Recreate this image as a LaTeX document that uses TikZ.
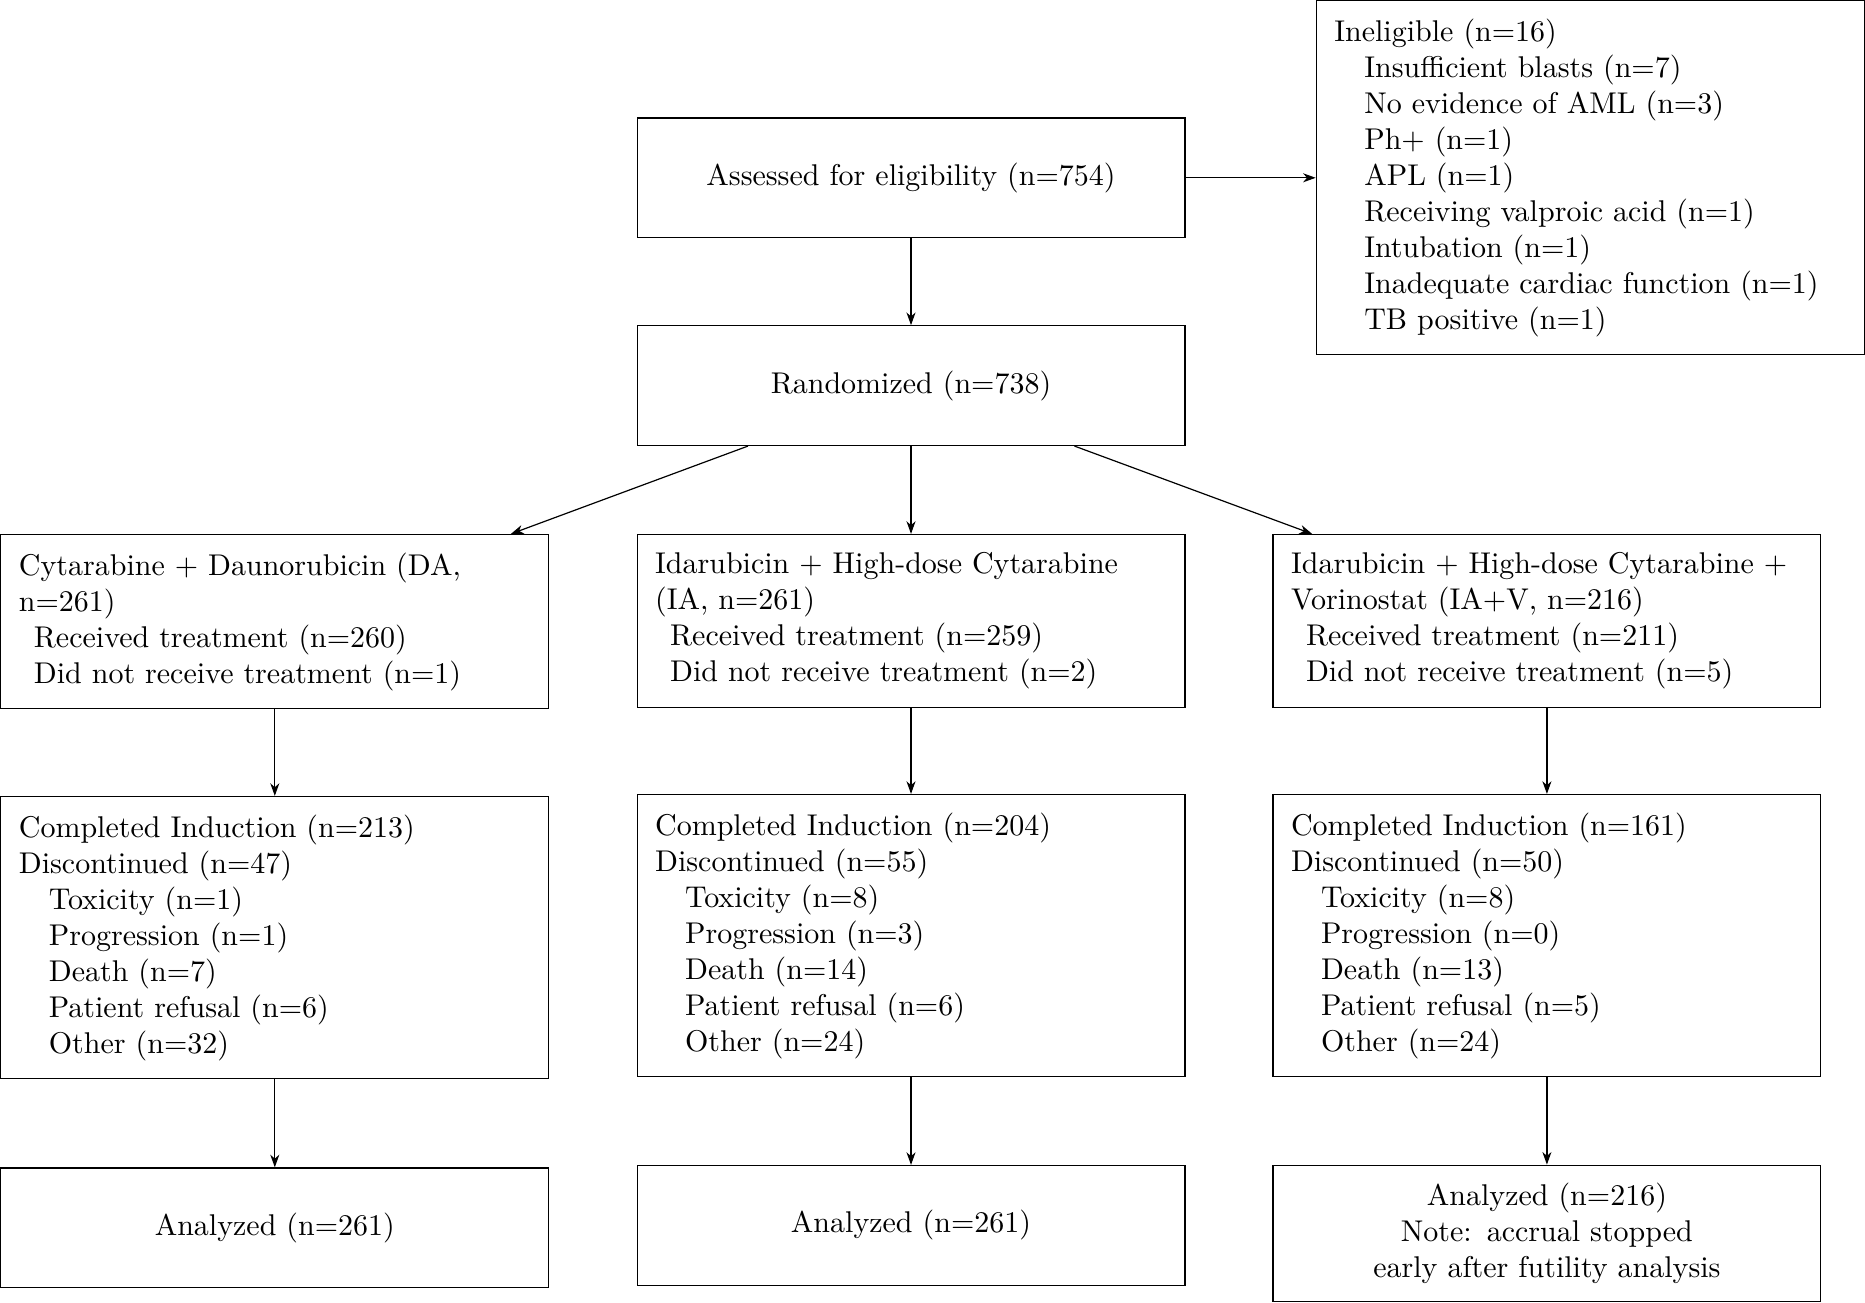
\documentclass[tikz,border=0pt]{standalone}
\usetikzlibrary{arrows.meta}
\tikzset{
  box/.style={draw, line width=0.4pt, inner xsep=6pt, inner ysep=6pt, text width=170.6pt},
  onebox/.style={box, align=center, minimum height=39.9pt},
  leftbox/.style={box, align=left},
  midbox/.style={box, align=center},
  arr/.style={-{Stealth[length=4.2pt,width=3pt,inset=1.3pt]}, line width=0.4pt}
}
\newcommand{\subA}{\hspace*{5pt}}
\newcommand{\subB}{\hspace*{1em}}
\begin{document}
\begin{tikzpicture}[x={(0.333333pt,0)}, y={(0,-0.333333pt)}]
\useasboundingbox (0,0) rectangle (1865,1302);

\node[onebox] (ass) at (911,177.8) {Assessed for eligibility (n=754)};
\node[leftbox] (inel) at (1590.2,177.8) {Ineligible (n=16)\\
\subB Insufficient blasts (n=7)\\
\subB No evidence of AML (n=3)\\
\subB Ph+ (n=1)\\
\subB APL (n=1)\\
\subB Receiving valproic acid (n=1)\\
\subB Intubation (n=1)\\
\subB Inadequate cardiac function (n=1)\\
\subB TB positive (n=1)};
\node[onebox] (rand) at (911,385.6) {Randomized (n=738)};

\node[leftbox, anchor=north] (da) at (274.8,533.9) {Cytarabine + Daunorubicin (DA, n=261)\\
\subA Received treatment (n=260)\\
\subA Did not receive treatment (n=1)};
\node[leftbox, anchor=north] (ia) at (911,533.9) {Idarubicin + High-dose Cytarabine (IA, n=261)\\
\subA Received treatment (n=259)\\
\subA Did not receive treatment (n=2)};
\node[leftbox, anchor=north] (iav) at (1546.9,533.9) {Idarubicin + High-dose Cytarabine + Vorinostat (IA+V, n=216)\\
\subA Received treatment (n=211)\\
\subA Did not receive treatment (n=5)};

\node[leftbox, anchor=north] (cda) at (274.8,795.9) {Completed Induction (n=213)\\
Discontinued (n=47)\\
\subB Toxicity (n=1)\\
\subB Progression (n=1)\\
\subB Death (n=7)\\
\subB Patient refusal (n=6)\\
\subB Other (n=32)};
\node[leftbox, anchor=north] (cia) at (911,793.9) {Completed Induction (n=204)\\
Discontinued (n=55)\\
\subB Toxicity (n=8)\\
\subB Progression (n=3)\\
\subB Death (n=14)\\
\subB Patient refusal (n=6)\\
\subB Other (n=24)};
\node[leftbox, anchor=north] (civ) at (1546.9,793.9) {Completed Induction (n=161)\\
Discontinued (n=50)\\
\subB Toxicity (n=8)\\
\subB Progression (n=0)\\
\subB Death (n=13)\\
\subB Patient refusal (n=5)\\
\subB Other (n=24)};

\node[onebox, anchor=north] (ada) at (274.8,1167.3) {Analyzed (n=261)};
\node[onebox, anchor=north] (aia) at (911,1164.9) {Analyzed (n=261)};
\node[midbox, anchor=north] (aiv) at (1546.9,1164.6) {Analyzed (n=216)\\
Note: accrual stopped\\
early after futility analysis};

\draw[arr] (ass) -- (inel);
\draw[arr] (ass) -- (rand);
\draw[arr] (rand) -- (da);
\draw[arr] (rand) -- (ia);
\draw[arr] (rand) -- (iav);
\draw[arr] (da) -- (cda);
\draw[arr] (ia) -- (cia);
\draw[arr] (iav) -- (civ);
\draw[arr] (cda) -- (ada);
\draw[arr] (cia) -- (aia);
\draw[arr] (civ) -- (aiv);
\end{tikzpicture}
\end{document}
